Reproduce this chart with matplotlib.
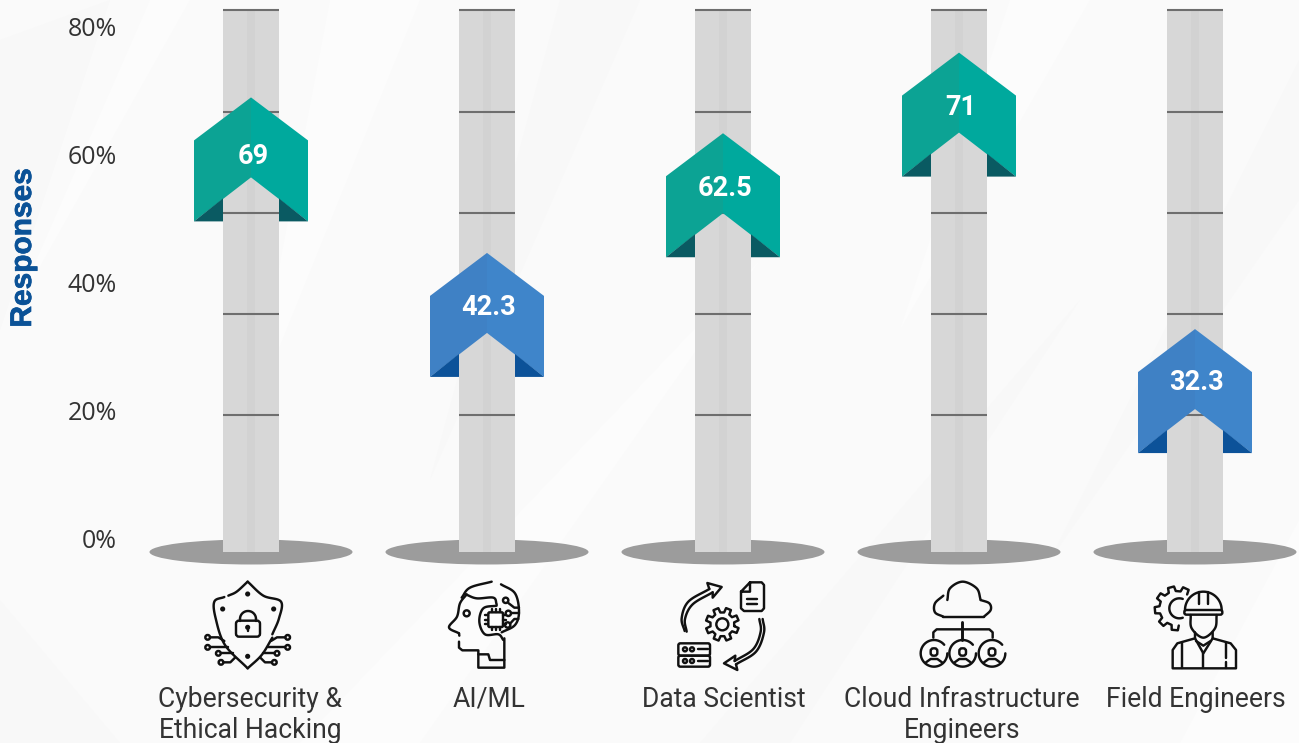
import numpy as np
import matplotlib
matplotlib.use("Agg")
import matplotlib.pyplot as plt
import matplotlib.patheffects as pe
from matplotlib.transforms import ScaledTranslation
from matplotlib.patches import Polygon, Ellipse, Rectangle, Circle, FancyBboxPatch

categories = ["Cybersecurity &\nEthical Hacking", "AI/ML", "Data Scientist",
              "Cloud Infrastructure\nEngineers", "Field Engineers"]
value_labels = ["69", "42.3", "62.5", "71", "32.3"]
arrow_tips = [69.0, 44.7, 63.4, 76.0, 32.8]      # drawn height of each arrow tip
label_levels = [59.7, 36.2, 54.7, 67.4, 24.4]    # drawn height of each value label
palettes = ["teal", "blue", "teal", "teal", "blue"]
y_ticks = [0, 20, 40, 60, 80]
rung_levels = [19.35, 35.2, 51.0, 66.65, 82.65]
column_top = 82.65
column_bottom = -2.0
label_nudges_px = [-1, 2, 1, 3, 1]

W, H = 1299, 743
PXY = 6.4      # pixels per percent
PXX = 236.0    # pixels per category
colors = {"teal": ("#0CA394", "#00A99D", "#0A5A62"),
          "blue": ("#3F81C5", "#3F85CA", "#0C5299")}

fig = plt.figure(figsize=(W / 100, H / 100), dpi=100, facecolor="#FAFAFA")

# background + icon layer in pixel coordinates
bg = fig.add_axes([0, 0, 1, 1], zorder=0)
bg.set_xlim(0, W); bg.set_ylim(H, 0); bg.axis("off")
streaks = [
    ((0, 40), (110, 0), (0, 330), "#F8F8F8"), ((150, 0), (190, 0), (10, 320), "#FCFCFC"),
    ((1010, 0), (1090, 0), (900, 330), "#FCFCFC"), ((1299, 60), (1299, 200), (1050, 560), "#F8F8F8"),
    ((700, 743), (790, 743), (1080, 300), "#F8F8F8"), ((300, 743), (420, 743), (760, 260), "#FCFCFC"),
    ((0, 600), (0, 743), (120, 743), "#F8F8F8"), ((1299, 520), (1299, 743), (1180, 743), "#FCFCFC"),
    ((330, 0), (420, 0), (250, 420), "#FCFCFC"), ((560, 0), (640, 0), (430, 480), "#F8F8F8"),
]
for a, b, c, col in streaks:
    bg.add_patch(Polygon([a, b, c], closed=True, fc=col, ec="none"))

ax = fig.add_axes([124 / W, 1 - 539 / H, (W - 124) / W, (539 - 27) / H], zorder=1)
ax.patch.set_alpha(0)
ax.set_xlim((124 - 251) / PXX, (W - 251) / PXX)
ax.set_ylim(0, 80)
for s in ax.spines.values():
    s.set_visible(False)
ax.set_yticks(y_ticks)
ax.set_yticklabels([f"{v}%" for v in y_ticks], fontfamily="Open Sans", fontsize=18, color="#333333")
ax.set_xticks(range(len(categories)))
ax.set_xticklabels(categories, fontfamily="Roboto", fontsize=19.1, color="#333333", linespacing=1.2)
ax.tick_params(axis="both", length=0)
ax.tick_params(axis="y", pad=5)
ax.tick_params(axis="x", pad=105.5)
for lab, dx in zip(ax.get_xticklabels(), label_nudges_px):
    lab.set_transform(lab.get_transform() + ScaledTranslation(dx / 100, 0, fig.dpi_scale_trans))
ax.set_ylabel("Responses", fontfamily="Liberation Sans", fontweight="bold", fontsize=21.5,
              color="#0B5297", path_effects=[pe.withStroke(linewidth=0.5, foreground="#0B5297")])
ax.yaxis.set_label_coords(-87 / (W - 124), (539 - 248) / 512)

HALF_COL = 28 / PXX
HALF_STRIPE = 4 / PXX
HALF_ARROW = 57 / PXX
SHOULDER, NOTCH, DEPTH = 43 / PXY, 80 / PXY, 124 / PXY
SHADOW = 23 / PXY

for i, (tip, lab, lvl, pal) in enumerate(zip(arrow_tips, value_labels, label_levels, palettes)):
    ax.add_patch(Ellipse((i, -13 / PXY), 203 / PXX, 25 / PXY, fc="#9C9C9C", ec="none", zorder=2, clip_on=False))
    ax.add_patch(Rectangle((i - HALF_COL, column_bottom), 2 * HALF_COL, column_top - column_bottom,
                           fc="#D7D7D7", ec="none", zorder=3, clip_on=False))
    ax.add_patch(Rectangle((i - HALF_STRIPE, column_bottom), 2 * HALF_STRIPE, column_top - column_bottom,
                           fc="#D2D2D2", ec="none", zorder=3, clip_on=False))
    for r in rung_levels:
        ax.plot([i - HALF_COL, i + HALF_COL], [r, r], color="#6E6E6E", lw=1.5, zorder=4,
                solid_capstyle="butt", clip_on=False)
    left, right, dark = colors[pal]
    base = tip - DEPTH
    ax.add_patch(Polygon([(i, tip), (i - HALF_ARROW, tip - SHOULDER), (i - HALF_ARROW, base),
                          (i, tip - NOTCH)], fc=left, ec="none", zorder=5, clip_on=False))
    ax.add_patch(Polygon([(i, tip), (i + HALF_ARROW, tip - SHOULDER), (i + HALF_ARROW, base),
                          (i, tip - NOTCH)], fc=right, ec="none", zorder=5, clip_on=False))
    for sgn in (-1, 1):
        ax.add_patch(Polygon([(i + sgn * HALF_ARROW, base), (i + sgn * HALF_COL, base + SHADOW),
                              (i + sgn * HALF_COL, base)], fc=dark, ec="none", zorder=6, clip_on=False))
    ax.text(i + 2 / PXX, lvl, lab, ha="center", va="center", color="white", fontfamily="Roboto",
            fontweight="bold", fontsize=19.5, zorder=7, clip_on=False)

# ---- hand-drawn icons (decoration), coordinates in 3x crop units ----
INK = "#111111"
LW = 1.75

def spline(p, n=14):
    p = np.array(p, float)
    q = np.vstack([2 * p[0] - p[1], p, 2 * p[-1] - p[-2]])
    out = []
    for k in range(1, len(q) - 2):
        for t in np.linspace(0, 1, n, endpoint=False):
            a, b, c, d = q[k - 1], q[k], q[k + 1], q[k + 2]
            out.append(0.5 * (2 * b + (c - a) * t + (2 * a - 5 * b + 4 * c - d) * t ** 2
                              + (3 * b - a - 3 * c + d) * t ** 3))
    out.append(p[-1])
    return np.array(out)

class Icon:
    def __init__(self, x0, y0):
        self.x0, self.y0 = x0, y0
    def P(self, pts):
        pts = np.array(pts, float)
        return self.x0 + pts[:, 0] / 3, self.y0 + pts[:, 1] / 3
    def line(self, pts, lw=LW):
        x, y = self.P(pts)
        bg.plot(x, y, color=INK, lw=lw, solid_capstyle="round", solid_joinstyle="round")
    def curve(self, pts, lw=LW):
        self.line(spline(pts), lw)
    def circ(self, x, y, r, fill=False, lw=LW):
        bg.add_patch(Circle((self.x0 + x / 3, self.y0 + y / 3), r / 3, fc=INK if fill else "none",
                            ec=INK, lw=lw))
    def arc(self, x, y, r, a0, a1, lw=LW):
        t = np.radians(np.linspace(a0, a1, 40))
        self.line(np.c_[x + r * np.cos(t), y + r * np.sin(t)], lw)
    def rrect(self, x, y, w, h, r=6, lw=LW):
        bg.add_patch(FancyBboxPatch((self.x0 + (x + r) / 3, self.y0 + (y + r) / 3), (w - 2 * r) / 3, (h - 2 * r) / 3,
                                    boxstyle=f"round,pad={r / 3},rounding_size={r / 3}", fc="none", ec=INK, lw=lw))

def gear(ic, cx, cy, R, r, teeth, a0=0, a1=360, start=0):
    pts = []
    step = 360 / teeth
    a = a0 + start
    while a < a1 + start:
        for da, rad in [(-0.30, r), (-0.20, R), (0.20, R), (0.30, r)]:
            t = np.radians(a + da * step)
            pts.append((cx + rad * np.cos(t), cy + rad * np.sin(t)))
        a += step
    if a1 - a0 >= 360:
        pts.append(pts[0])
    ic.line(pts)

# shield
s = Icon(195, 575)
s.curve([(100, 62), (125, 50), (158, 20)])
s.curve([(158, 20), (205, 62), (258, 80), (252, 130), (232, 178)])
s.curve([(88, 66), (58, 80), (62, 130), (90, 210), (158, 280)])
s.curve([(158, 280), (200, 240), (232, 188)])
for (x, y) in [(158, 57), (83, 102), (236, 102), (158, 244)]:
    s.circ(x, y, 4, fill=True)
s.rrect(123, 137, 72, 48, r=9)
s.arc(159, 132, 24, 180, 360)
s.line([(135, 132), (135, 137)]); s.line([(183, 132), (183, 137)])
s.circ(158, 157, 4, fill=True); s.line([(158, 157), (158, 168)])
for sgn in (-1, 1):
    cx = 158
    f = lambda dx: cx + sgn * dx
    s.circ(f(120), 187, 7); s.line([(f(113), 187), (f(88), 187), (f(70), 198)])
    s.circ(f(120), 217, 7); s.line([(f(113), 217), (f(60), 217)])
    s.circ(f(88), 235, 7); s.line([(f(80), 235), (f(45), 235)])
    s.circ(f(80), 262, 7); s.line([(f(72), 262), (f(52), 262), (f(38), 248)])

# head
h = Icon(435, 575)
h.curve([(80, 68), (105, 38), (170, 20)])
h.curve([(198, 28), (240, 55), (252, 110), (240, 150), (200, 172)])
h.curve([(95, 58), (75, 85), (66, 125), (42, 157), (72, 175)])
h.line([(72, 175), (73, 182)])
h.line([(72, 200), (72, 218), (82, 226), (130, 226), (130, 278), (208, 278), (208, 190)])
h.line([(130, 238), (160, 238), (165, 255), (208, 255)])
h.curve([(92, 58), (125, 70), (175, 68), (185, 88)])
h.curve([(185, 92), (145, 100), (133, 140), (150, 178), (190, 178), (205, 195)])
h.circ(95, 115, 9)
h.rrect(160, 112, 44, 44, r=4)
for t in (120, 134, 148):
    h.line([(150, t), (160, t)]); h.line([(204, t), (214, t)])
for t in (170, 182, 194):
    h.line([(t, 102), (t, 112)]); h.line([(t, 156), (t, 166)])
h.circ(212, 76, 8); h.line([(220, 84), (238, 98), (252, 98)])
h.circ(220, 115, 8); h.line([(228, 115), (252, 115)])
h.circ(218, 150, 8); h.line([(226, 145), (238, 132), (250, 132)])

# data scientist
d = Icon(670, 575)
d.curve([(44, 168), (35, 130), (55, 80), (118, 42)])
d.curve([(50, 170), (45, 132), (68, 88), (128, 52)])
d.line([(118, 42), (112, 24), (155, 36), (128, 68), (128, 52)])
d.curve([(268, 132), (272, 170), (250, 222), (194, 258)])
d.curve([(278, 132), (282, 172), (258, 230), (198, 268)])
d.line([(194, 258), (196, 242), (162, 265), (202, 285), (198, 268)])
gear(d, 157, 148, 50, 36, 8, start=22)
d.circ(157, 148, 18)
d.line([(240, 22), (275, 22), (282, 30), (282, 100), (275, 108), (222, 108), (213, 100), (213, 50), (240, 22), (240, 50), (213, 50)])
d.line([(232, 72), (262, 72)]); d.line([(232, 88), (262, 88)])
d.rrect(25, 205, 95, 37, r=6); d.rrect(25, 242, 95, 33, r=6)
for y in (223, 258):
    d.circ(45, y, 6); d.circ(66, y, 6); d.line([(85, y), (115, y)])

# cloud network
c = Icon(910, 575)
c.curve([(112, 75), (120, 40), (158, 20), (200, 40), (212, 75)])
c.curve([(212, 75), (238, 85), (242, 105), (222, 125)])
c.line([(222, 125), (100, 125)])
c.curve([(100, 125), (75, 112), (75, 85), (100, 62)])
c.line([(157, 140), (157, 195)], lw=LW * 1.2)
c.line([(70, 188), (70, 172), (80, 163), (238, 163), (248, 172), (248, 188)])
for x in (72, 158, 246):
    c.arc(x, 235, 40, 0, 320)
    c.rrect(x - 10, 220, 20, 22, r=8)
    c.line([(x - 24, 262), (x - 10, 252), (x + 10, 252), (x + 24, 262)])

# engineer
e = Icon(1140, 575)
gear(e, 110, 100, 66, 52, 9, a0=95, a1=320, start=0)
e.arc(118, 100, 30, 70, 290)
e.arc(190, 105, 55, 180, 360)
e.line([(178, 52), (178, 88)]); e.line([(204, 52), (204, 88)])
e.rrect(133, 105, 114, 14, r=6)
e.curve([(152, 120), (155, 160), (190, 188), (225, 160), (230, 120)])
e.line([(165, 172), (165, 190), (112, 205), (98, 225), (98, 280), (288, 280), (288, 225), (272, 205), (218, 190), (218, 172)])
e.line([(125, 205), (125, 280)]); e.line([(258, 205), (258, 250)]); e.line([(258, 262), (258, 280)])
e.line([(165, 190), (190, 235), (218, 190)])
e.line([(190, 235), (190, 280)])
e.line([(168, 198), (190, 212), (212, 198)])

fig.savefig("out.png", dpi=100, facecolor=fig.get_facecolor())
